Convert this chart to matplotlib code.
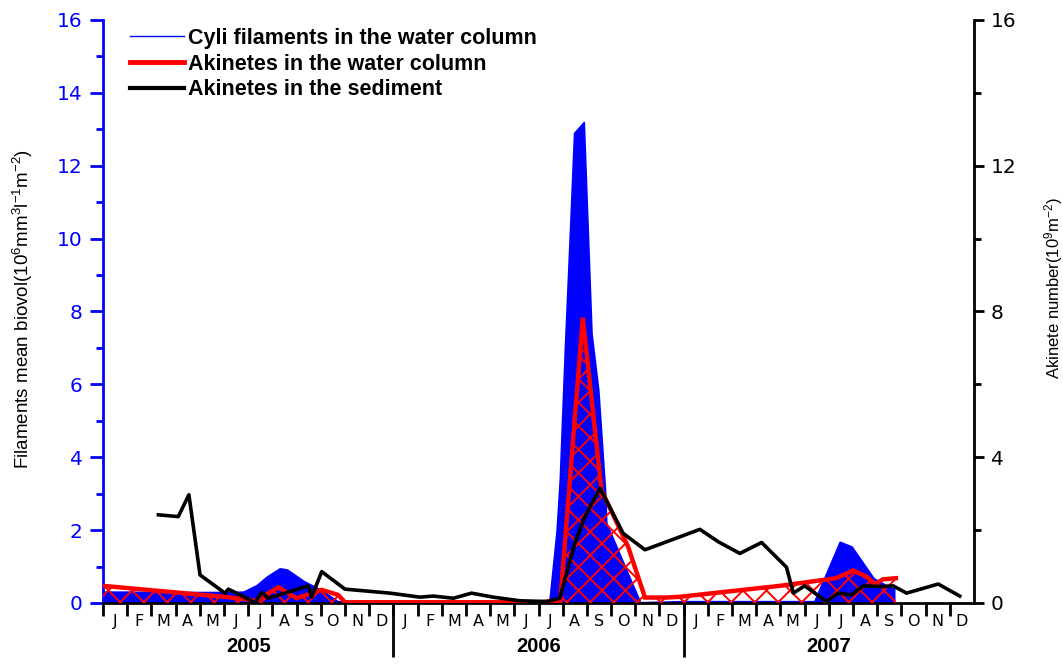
import numpy as np
import matplotlib
matplotlib.use("Agg")
import matplotlib.pyplot as plt
from matplotlib.patches import Polygon
from matplotlib.collections import LineCollection
from matplotlib.lines import Line2D

plt.rcParams['font.family'] = ['Liberation Sans', 'DejaVu Sans']
plt.rcParams['mathtext.default'] = 'regular'
TICK_FONT = 'DejaVu Sans'

# time axis: months since 1 Jan 2005
years = ['2005', '2006', '2007']
months = ['J', 'F', 'M', 'A', 'M', 'J', 'J', 'A', 'S', 'O', 'N', 'D']

# Cyli filaments in the water column (left axis)
fil_t = [0, 1, 2, 3, 4, 5, 5.8, 6.35, 6.76, 7.3, 7.6, 8.3, 9.0, 9.7, 10.5,
         12, 14, 16, 18.0, 18.45, 18.75, 18.88, 19.09, 19.3, 19.47, 19.87,
         20.19, 20.47, 20.75, 20.8, 22.2, 24, 26, 28, 29.4, 30.45, 30.94,
         31.85, 32.6, 32.7]
fil_v = [0.31, 0.31, 0.30, 0.30, 0.30, 0.30, 0.31, 0.49, 0.72, 0.95, 0.92,
         0.60, 0.36, 0.05, 0.0, 0.0, 0.0, 0.0, 0.0, 0.05, 2.0, 3.4, 7.0, 10.2,
         12.9, 13.2, 7.4, 5.85, 3.1, 2.2, 0.02, 0.05, 0.05, 0.05, 0.05, 1.68,
         1.55, 0.68, 0.40, 0.40]

# akinetes in the water column (right axis)
akw_t = [0, 5.0, 5.93, 6.3, 7.25, 8.0, 9.04, 9.72, 10.0, 12, 14, 16, 18.0,
         18.9, 19.83, 20.6, 21.7, 22.4, 23.3, 23.84, 27.97, 30.3, 31.0, 31.56,
         31.9, 32.24, 32.77]
akw_v = [0.47, 0.17, 0.10, 0.06, 0.43, 0.13, 0.36, 0.22, 0.02, 0.02, 0.02,
         0.02, 0.02, 0.05, 7.83, 3.1, 1.55, 0.15, 0.15, 0.17, 0.47, 0.68,
         0.89, 0.72, 0.52, 0.65, 0.68]

# akinetes in the sediment (right axis)
aks_t = [2.29, 3.11, 3.55, 4.01, 5.04, 5.18, 5.52, 6.28, 6.56, 6.83, 8.48,
         8.62, 9.04, 10.0, 11.86, 13.1, 13.65, 14.48, 15.23, 16.13, 17.23,
         18.33, 18.88, 19.5, 19.92, 20.54, 21.5, 22.4, 24.67, 25.43, 26.32,
         27.22, 28.25, 28.53, 29.0, 29.9, 30.38, 30.93, 31.42, 32.1, 32.66,
         33.21, 34.52, 35.41]
aks_v = [2.42, 2.37, 2.97, 0.77, 0.27, 0.38, 0.27, 0.01, 0.29, 0.13, 0.47,
         0.16, 0.86, 0.38, 0.27, 0.16, 0.19, 0.13, 0.27, 0.16, 0.06, 0.04,
         0.13, 1.64, 2.37, 3.15, 1.91, 1.46, 2.02, 1.68, 1.36, 1.66, 0.98,
         0.27, 0.47, 0.04, 0.27, 0.22, 0.47, 0.45, 0.47, 0.27, 0.52, 0.19]

labels = ['Cyli filaments in the water column',
          'Akinetes in the water column',
          'Akinetes in the sediment']

BLUE = '#0000ff'
RED = '#ff0000'

fig = plt.figure(figsize=(10.63, 6.64), dpi=100)
ax = fig.add_axes([0.0969, 0.0919, 0.8194, 0.878])
ax2 = ax.twinx()

n_months = 12 * len(years)

# filaments: solid blue area
ax.fill_between(fil_t, fil_v, 0, facecolor=BLUE, edgecolor=BLUE, linewidth=1.2)

# akinetes in water: cross-hatched area under a thick red line
verts = np.column_stack([np.r_[akw_t[0], akw_t, akw_t[-1]],
                         np.r_[0, akw_v, 0]])
area = Polygon(verts, closed=True, facecolor='none', edgecolor='none',
               transform=ax2.transData)
ax2.add_patch(area)
w, h = fig.get_size_inches()
step = 0.235
c = np.arange(-h - 1, w + 1, step)
segs = [[(x0, 0), (x0 + h, h)] for x0 in c] + [[(x0 + h, 0), (x0, h)] for x0 in c]
hatch = LineCollection(segs, colors=RED, linewidths=1.4,
                       transform=fig.dpi_scale_trans)
ax2.add_collection(hatch, autolim=False)
hatch.set_clip_path(area)
ax2.plot(akw_t, akw_v, color=RED, lw=3.2, solid_joinstyle='miter')

# akinetes in sediment
ax2.plot(aks_t, aks_v, color='black', lw=2.6)

for a in (ax, ax2):
    a.set_xlim(0, n_months)
    a.set_ylim(0, 16)
    a.spines['top'].set_visible(False)

# left axis (blue)
ax.spines['left'].set_color(BLUE)
ax.spines['left'].set_linewidth(2.0)
ax.spines['bottom'].set_linewidth(2.0)
ax.spines['right'].set_visible(False)
ax.set_yticks(np.arange(0, 17, 2))
ax.set_yticks(np.arange(1, 16, 2), minor=True)
ax.tick_params(axis='y', which='major', colors=BLUE, labelsize=14.5,
               length=9.5, width=2, pad=5)
ax.tick_params(axis='y', which='minor', colors=BLUE, length=5, width=2)
ax.set_ylabel('Filaments mean biovol(10$^{6}$mm$^{3}$l$^{-1}$m$^{-2}$)',
              fontsize=13.5)
ax.yaxis.set_label_coords(-0.078, 0.505)

# right axis
ax2.spines['right'].set_linewidth(2.0)
ax2.spines['left'].set_visible(False)
ax2.spines['bottom'].set_visible(False)
ax2.set_yticks(np.arange(0, 17, 4))
ax2.set_yticks(np.arange(2, 16, 4), minor=True)
ax2.tick_params(axis='y', which='major', labelsize=14.5, length=7, width=2, pad=5)
ax2.tick_params(axis='y', which='minor', length=5, width=2)
ax2.set_ylabel('Akinete number(10$^{9}$m$^{-2}$)', fontsize=12)
ax2.yaxis.set_label_coords(1.078, 0.54)

# month boundaries as ticks, month initials centred between them
ax.set_xticks(np.arange(n_months))
ax.set_xticklabels([])
ax.set_xticks(np.arange(n_months) + 0.5, minor=True)
ax.set_xticklabels(months * len(years), minor=True)
ax.tick_params(axis='x', which='major', length=9.5, width=2, direction='out')
ax.tick_params(axis='x', which='minor', length=0, labelsize=11.5, pad=8)

for lab in ax.get_yticklabels() + ax2.get_yticklabels() + ax.get_xticklabels(minor=True):
    lab.set_family(TICK_FONT)

# year dividers and year labels
xt = ax.get_xaxis_transform()
ax.vlines(np.arange(12, n_months, 12), 0, -0.093, transform=xt,
          colors='black', lw=2, clip_on=False)
for i, yr in enumerate(years):
    ax.text(12 * i + 6, -0.0755, yr, transform=xt, ha='center', va='center',
            fontsize=14.5, fontweight='bold')

handles = [Line2D([], [], color=BLUE, lw=1),
           Line2D([], [], color=RED, lw=3.5),
           Line2D([], [], color='black', lw=3.0)]
ax2.legend(handles, labels, loc='upper left', bbox_to_anchor=(0.122, 0.958),
           bbox_transform=fig.transFigure, frameon=False,
           prop={'size': 15.5, 'weight': 'bold'},
           handlelength=2.5, handletextpad=0.2, labelspacing=0.22,
           borderaxespad=0, borderpad=0)

fig.savefig('out.png', dpi=100)
